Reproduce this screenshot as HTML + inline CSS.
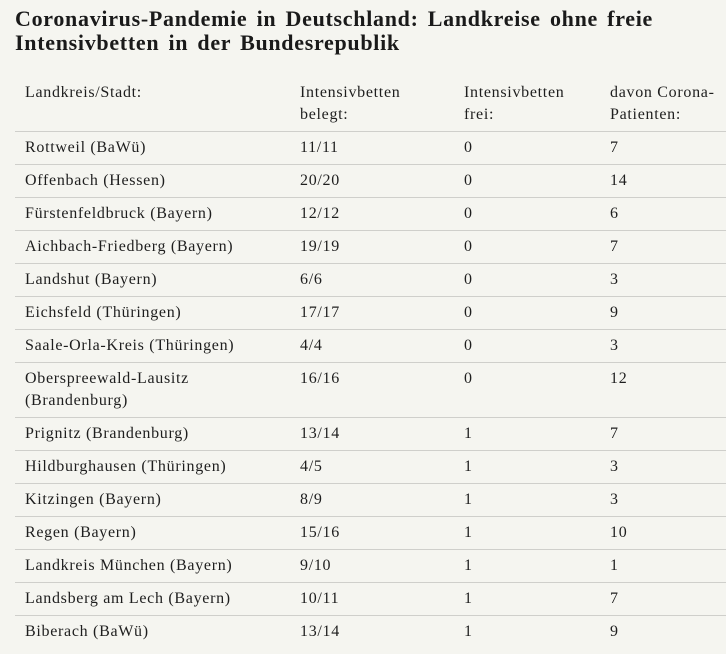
<!DOCTYPE html>
<html><head><meta charset="utf-8">
<style>
html,body{margin:0;padding:0;}
body{width:726px;height:654px;overflow:hidden;background:#f5f5f0;color:#1e1e1e;font-family:"Liberation Serif","DejaVu Serif",serif;}
h1{margin:0;position:absolute;left:15px;top:7px;width:711px;font-size:22px;line-height:24px;font-weight:bold;letter-spacing:0.7px;word-spacing:3px;color:#1a1a1a;white-space:nowrap;}
table{position:absolute;left:15px;top:77px;width:740px;border-collapse:collapse;table-layout:fixed;font-size:16px;letter-spacing:0.7px;}
td{padding:5px 10px;line-height:22px;vertical-align:top;border-bottom:1px solid #cfcfcb;white-space:nowrap;}
tr:last-child td{border-bottom:none;}
col.a{width:275px}col.b{width:164px}col.c{width:146px}col.d{width:155px}
</style></head><body>
<h1>Coronavirus-Pandemie in Deutschland: Landkreise ohne freie<br>Intensivbetten in der Bundesrepublik</h1>
<table>
<colgroup><col class="a"><col class="b"><col class="c"><col class="d"></colgroup>
<tr><td>Landkreis/Stadt:</td><td>Intensivbetten<br>belegt:</td><td>Intensivbetten<br>frei:</td><td>davon Corona-<br>Patienten:</td></tr>
<tr><td>Rottweil (BaWü)</td><td>11/11</td><td>0</td><td>7</td></tr>
<tr><td>Offenbach (Hessen)</td><td>20/20</td><td>0</td><td>14</td></tr>
<tr><td>Fürstenfeldbruck (Bayern)</td><td>12/12</td><td>0</td><td>6</td></tr>
<tr><td>Aichbach-Friedberg (Bayern)</td><td>19/19</td><td>0</td><td>7</td></tr>
<tr><td>Landshut (Bayern)</td><td>6/6</td><td>0</td><td>3</td></tr>
<tr><td>Eichsfeld (Thüringen)</td><td>17/17</td><td>0</td><td>9</td></tr>
<tr><td>Saale-Orla-Kreis (Thüringen)</td><td>4/4</td><td>0</td><td>3</td></tr>
<tr><td>Oberspreewald-Lausitz<br>(Brandenburg)</td><td>16/16</td><td>0</td><td>12</td></tr>
<tr><td>Prignitz (Brandenburg)</td><td>13/14</td><td>1</td><td>7</td></tr>
<tr><td>Hildburghausen (Thüringen)</td><td>4/5</td><td>1</td><td>3</td></tr>
<tr><td>Kitzingen (Bayern)</td><td>8/9</td><td>1</td><td>3</td></tr>
<tr><td>Regen (Bayern)</td><td>15/16</td><td>1</td><td>10</td></tr>
<tr><td>Landkreis München (Bayern)</td><td>9/10</td><td>1</td><td>1</td></tr>
<tr><td>Landsberg am Lech (Bayern)</td><td>10/11</td><td>1</td><td>7</td></tr>
<tr><td>Biberach (BaWü)</td><td>13/14</td><td>1</td><td>9</td></tr>
</table>
</body></html>
